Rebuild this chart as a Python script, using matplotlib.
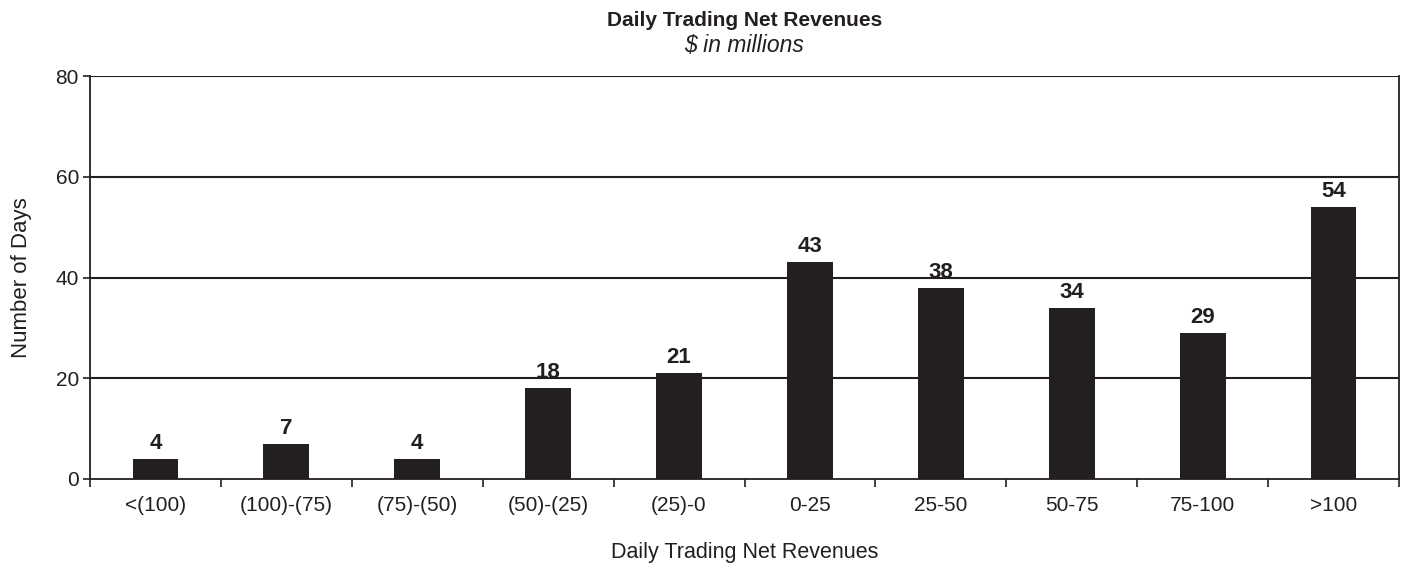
import numpy as np
import matplotlib
matplotlib.use('Agg')
import matplotlib.pyplot as plt

# data
categories = ['<(100)', '(100)-(75)', '(75)-(50)', '(50)-(25)', '(25)-0',
	'0-25', '25-50', '50-75', '75-100', '>100']
days = [4, 7, 4, 18, 21, 43, 38, 34, 29, 54]
yticks = [0, 20, 40, 60, 80]

barColor = '#231f20'
lineColor = '#231f20'
plt.rcParams['font.family'] = ['Liberation Sans', 'DejaVu Sans']

W, H = 1401, 565
fig = plt.figure(figsize=(W / 100, H / 100), dpi=100)
ax = fig.add_axes([90 / W, 1 - 479 / H, (1399 - 90) / W, (479 - 76) / H])

x = np.arange(len(categories))
ax.bar(x, days, width=0.35, color=barColor, zorder=3)
for xi, v in zip(x, days):
	ax.text(xi, v + 1.0, str(v), ha='center', va='bottom', fontsize=16,
		fontweight='bold', color=lineColor)

ax.set_xlim(-0.5, len(categories) - 0.5)
ax.set_ylim(0, 80)
ax.set_yticks(yticks)
ax.tick_params(axis='y', labelsize=15, length=5, width=1.2, colors=lineColor, pad=3)
ax.set_xticks(x)
ax.set_xticklabels(categories)
ax.tick_params(axis='x', which='major', length=0, labelsize=15, pad=12, colors=lineColor)
ax.set_xticks(np.arange(-0.5, len(categories)), minor=True)
ax.tick_params(axis='x', which='minor', length=6, width=1.2, color=lineColor)

for y in yticks[1:]:
	ax.axhline(y, color=lineColor, linewidth=1.5, zorder=1)

for s in ['left', 'right', 'bottom']:
	ax.spines[s].set_color(lineColor)
	ax.spines[s].set_linewidth(1.3)
ax.spines['top'].set_visible(False)

ax.set_ylabel('Number of Days', fontsize=16, color=lineColor, labelpad=17)
ax.set_xlabel('Daily Trading Net Revenues', fontsize=15.5, color=lineColor, labelpad=20)

cx = (90 + 1399) / 2 / W
fig.text(cx, 1 - 21 / H, 'Daily Trading Net Revenues', ha='center', va='center',
	fontsize=15, fontweight='bold', color=lineColor)
fig.text(cx, 1 - 46 / H, '$ in millions', ha='center', va='center',
	fontsize=16.5, style='italic', color=lineColor)

fig.savefig('out.png', dpi=100)
